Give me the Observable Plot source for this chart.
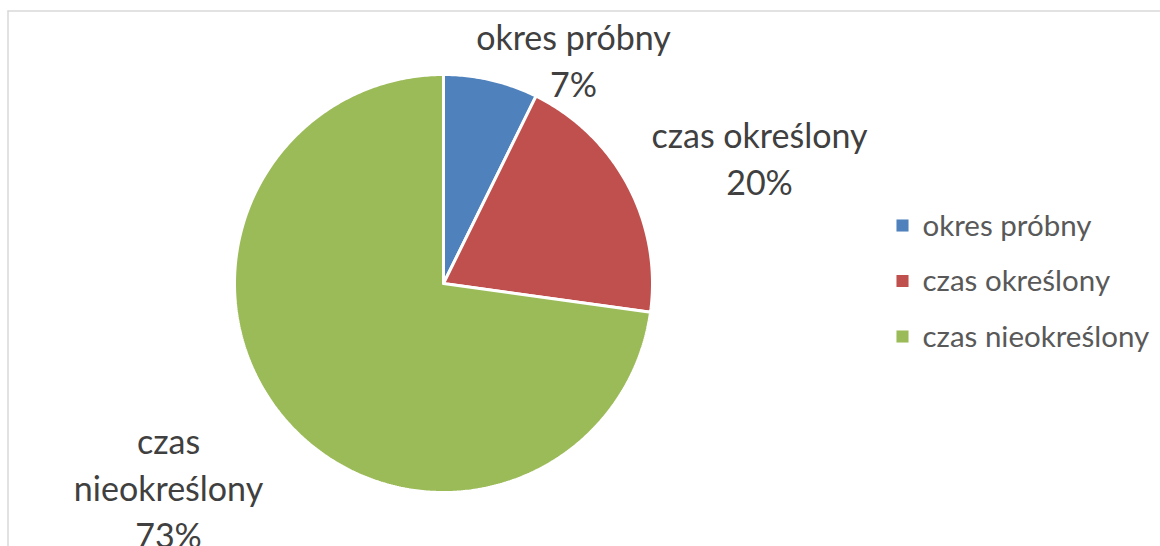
<!DOCTYPE html>
<html>
<head>
<meta charset="utf-8">
<script src="https://cdn.jsdelivr.net/npm/d3@7"></script>
<script src="https://cdn.jsdelivr.net/npm/@observablehq/plot@0.6"></script>
<style>
  html, body { margin: 0; padding: 0; background: #fff; overflow: hidden; }
  #chart { width: 1160px; height: 546px; overflow: hidden; }
</style>
</head>
<body>
<div id="chart"></div>
<script>
// ---- data ----
const categories = ["okres próbny", "czas określony", "czas nieokreślony"];
const shares = [7.3, 19.9, 72.8];
const percentLabels = ["7%", "20%", "73%"];
const labelLines = [["okres próbny"], ["czas określony"], ["czas", "nieokreślony"]];
const colors = ["#4F81BD", "#C0504D", "#9BBB59"];

// ---- layout ----
const W = 1160, H = 546;
const cx = 443, cy = 283, R = 209;
const FONT = "Lato, 'Open Sans', sans-serif";

const slices = d3.pie().sort(null).value(d => d.value)(
  categories.map((name, i) => ({name, value: shares[i]}))
);

// polygon vertices for each slice, derived from the pie angles
const poly = [];
slices.forEach(s => {
  const n = Math.max(4, Math.ceil((s.endAngle - s.startAngle) / 0.01));
  poly.push({name: s.data.name, x: cx, y: cy});
  for (let k = 0; k <= n; k++) {
    const a = s.startAngle + (s.endAngle - s.startAngle) * k / n;
    poly.push({name: s.data.name, x: cx + R * Math.sin(a), y: cy - R * Math.cos(a)});
  }
  poly.push({name: s.data.name, x: cx, y: cy});
});

// data label anchor positions (layout) — baselines of first line
const labelPos = [
  {x: 573, y: 49},
  {x: 759, y: 147},
  {x: 168, y: 453}
];
const LH = 47;
const dataLabels = [];
categories.forEach((c, i) => {
  const lines = labelLines[i].concat([percentLabels[i]]);
  lines.forEach((t, j) => dataLabels.push({text: t, x: labelPos[i].x, y: labelPos[i].y + j * LH}));
});

// legend layout
const legendX = 902, legendTextX = 922;
const legendY = [225, 280.5, 336];
const legend = categories.map((c, i) => ({name: c, y: legendY[i]}));

const chart = Plot.plot({
  width: W, height: H,
  margin: 0,
  x: {domain: [0, W], range: [0, W], axis: null},
  y: {domain: [0, H], range: [0, H], axis: null},
  color: {domain: categories, range: colors},
  style: {fontFamily: FONT, background: "#fff", overflow: "hidden"},
  marks: [
    Plot.ruleX([7.5], {y1: 10.5, y2: H, stroke: "#d9d9d9", strokeWidth: 1.5}),
    Plot.ruleY([10.5], {x1: 7.5, x2: W, stroke: "#d9d9d9", strokeWidth: 1.5}),
    Plot.line(poly, {x: "x", y: "y", z: "name", fill: "name", stroke: "#fff", strokeWidth: 3, strokeLinejoin: "miter"}),
    Plot.text(dataLabels, {x: "x", y: "y", text: "text", fontSize: 34, fill: "#404040", textAnchor: "middle", lineAnchor: "bottom"}),
    Plot.dot(legend, {x: () => legendX, y: "y", fill: "name", symbol: "square", r: 6.8, stroke: null}),
    Plot.text(legend, {x: () => legendTextX, y: d => d.y + 10, text: "name", fontSize: 29.5, fill: "#595959", textAnchor: "start", lineAnchor: "bottom"})
  ]
});
document.getElementById("chart").appendChild(chart);
</script>
</body>
</html>
